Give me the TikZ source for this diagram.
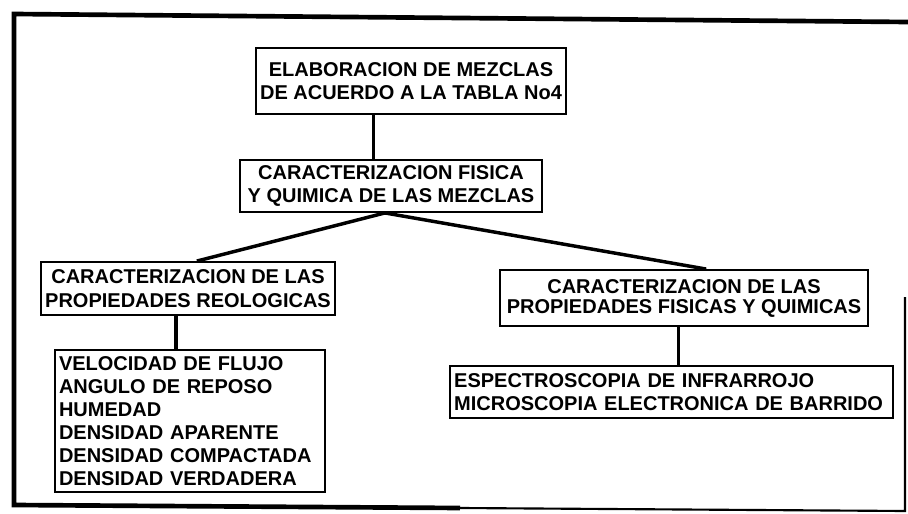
\documentclass[tikz,border=0pt]{standalone}
\usepackage{fontspec}
\setmainfont{Liberation Sans}
\usetikzlibrary{calc}

\tikzset{
  caja/.style={draw, line width=1.4pt, inner sep=3pt, font=\bfseries\fontsize{15}{17.5}\selectfont},
  lista/.style={caja, align=left, font=\bfseries\fontsize{15}{17.3}\selectfont},
  enlace/.style={line width=2.6pt},
  marco/.style={line width=3.5pt}
}

\begin{document}
\begin{tikzpicture}[x=0.75pt, y=-0.75pt]
\useasboundingbox (0,0) rectangle (908,514);

% Outer frame
\draw[marco] (908,22) -- (14,14) -- (14,505) -- (460,508);
\draw[line width=1.6pt] (460,508) -- (905,511) -- (905,297);

% Boxes
\node[caja, align=center, minimum width=229.5pt, minimum height=49.5pt] (mezclas) at (411,81)
  {ELABORACION DE MEZCLAS\\DE ACUERDO A LA TABLA No4};
\node[caja, align=center, minimum width=226.5pt, minimum height=39pt] (caract) at (391,186)
  {CARACTERIZACION FISICA\\Y QUIMICA DE LAS MEZCLAS};
\node[caja, align=center, minimum width=217.5pt, minimum height=39.75pt] (reolog) at (188,288.5)
  {CARACTERIZACION DE LAS\\PROPIEDADES REOLOGICAS};
\node[lista, text width=196.5pt, minimum height=106.5pt] (ensayos) at (190,421)
  {VELOCIDAD DE FLUJO\\ANGULO DE REPOSO\\HUMEDAD\\DENSIDAD APARENTE\\DENSIDAD COMPACTADA\\DENSIDAD VERDADERA};
\node[caja, align=center, minimum width=276pt, minimum height=42pt,
  font=\bfseries\fontsize{15}{15}\selectfont] (fisquim) at (684,298)
  {CARACTERIZACION DE LAS\\PROPIEDADES FISICAS Y QUIMICAS};
\node[lista, text width=326pt, minimum height=39pt] (tecnicas) at (671.5,392)
  {ESPECTROSCOPIA DE INFRARROJO\\MICROSCOPIA ELECTRONICA DE BARRIDO};

% Connectors
\coordinate (m1) at ($(mezclas.south west)!0.38!(mezclas.south east)$);
\draw[enlace] (m1) -- (m1 |- caract.north);
\draw[enlace] ($(caract.south west)!0.48!(caract.south east)$) -- ($(reolog.north west)!0.53!(reolog.north east)$);
\draw[enlace] ($(caract.south west)!0.48!(caract.south east)$) -- ($(fisquim.north west)!0.56!(fisquim.north east)$);
\coordinate (r1) at ($(reolog.south west)!0.46!(reolog.south east)$);
\draw[enlace] (r1) -- (r1 |- ensayos.north);
\coordinate (f1) at ($(fisquim.south west)!0.485!(fisquim.south east)$);
\draw[enlace] (f1) -- (f1 |- tecnicas.north);
\end{tikzpicture}
\end{document}
